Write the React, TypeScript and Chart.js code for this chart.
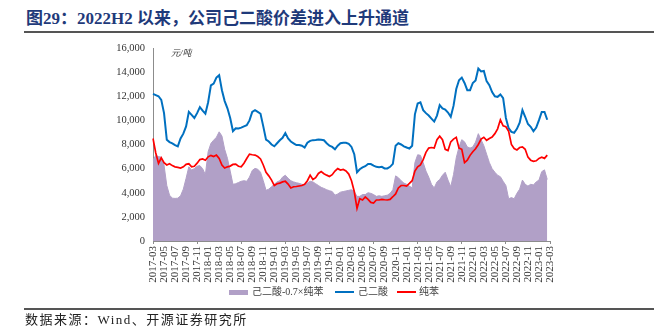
import React, { useEffect, useRef } from "react";
import { Chart, registerables } from "chart.js";

Chart.register(...registerables);

// Half-monthly observations, 2017-03 (first half) through 2023-02 (second half)
const adipic = [
  12200, 12100, 12000, 11700, 10600, 8400, 8200, 8100,
  7950, 7850, 8500, 8900, 9500, 10700, 10450, 10200,
  10600, 11100, 10800, 10550, 11500, 12900, 13050, 13550,
  13750, 12500, 11600, 11000, 10200, 9100, 9350, 9330,
  9400, 9500, 9600, 10000, 10700, 10850, 10700, 10550,
  9500, 8400, 8250, 8000, 7850, 8100, 8350, 8550,
  8950, 8500, 8250, 8100, 7950, 7950, 7900, 7750,
  8150, 8300, 8360, 8380, 8420, 8400, 8350, 8100,
  7900, 7800, 7600, 7900, 8100, 8140, 8140, 8050,
  7800, 7200, 5700, 5950, 6100, 6200, 6380, 6380,
  6250, 6150, 6120, 6150, 6020, 6020, 6150, 6400,
  7900, 8100, 8000, 7850, 7750, 7670, 7900, 10500,
  11400, 11500, 10850, 10600, 10400, 10150, 9900, 10400,
  11260, 11000, 10900, 10650, 10300, 11200, 12600, 13330,
  13550, 13100, 12500, 12500, 13100, 13300, 14300, 14050,
  14100, 13250, 12920, 12350, 12000, 11950, 12150, 11850,
  10200, 9350, 9050, 8970, 9300, 9800, 10850, 10300,
  9700, 9470, 9100, 9400, 10020, 10700, 10700, 10050,
];

const benzene = [
  8500, 7300, 6430, 6900, 6500, 6300, 6400, 6250,
  6150, 6100, 6050, 6150, 6350, 6400, 6150, 6200,
  6450, 6750, 6800, 6700, 6980, 7100, 7000, 7120,
  6850, 6300, 6050, 6150, 6210, 6350, 6380, 6200,
  6150, 6450, 6840, 7200, 7150, 7120, 7000, 6800,
  6300, 5700, 5400, 5050, 4600, 4750, 4800, 4900,
  4950, 4720, 4400, 4500, 4520, 4560, 4600, 4700,
  5000, 5460, 5100, 5250, 5600, 5750, 5580, 5460,
  5350, 5500, 5800, 6000, 5880, 5930, 5800, 5550,
  5000, 4100, 2700, 3500, 3400, 3650, 3450, 3200,
  3150, 3400, 3400, 3450, 3420, 3400, 3450, 3670,
  3900, 4400, 4600, 4600, 4550, 4770, 5000, 5800,
  6150, 6300, 6750, 7350, 7700, 7750, 7700, 8400,
  8690, 8400, 7600, 7500, 8220, 8450, 8600, 7700,
  7600, 6500, 6700, 7100, 7400, 7650, 8000, 8450,
  8600, 8350, 8500, 8620, 8900, 9300, 10050, 9550,
  9470, 9100, 8000, 7670, 7550, 7750, 7800, 7600,
  6950, 6700, 6600, 6650, 6850, 6950, 6850, 7120,
];

const spread = [
  6700, 7100, 7000, 6950, 6300, 4600, 3800, 3550,
  3530, 3550, 3750, 4300, 5200, 6150, 5880, 6000,
  6200, 6250, 6000, 5500, 7400, 8090, 8360, 8600,
  9050, 8700, 7600, 6850, 5800, 4700, 4750, 4850,
  4950, 5000, 4950, 5300, 5850, 6020, 5950, 5700,
  5000, 4200, 4300, 4500, 4700, 4900, 5000, 5300,
  5450, 5200, 5000, 4900, 4830, 4780, 4700, 4650,
  4800, 4950, 4900, 4750, 4600, 4450, 4360, 4250,
  4170, 4100, 3800, 3900, 4050, 4100, 4150, 4200,
  4250, 4100, 3700, 3700, 3850, 3850, 4000, 3950,
  3850, 3700, 3750, 3700, 3750, 3800, 3950, 4250,
  5400, 5250, 5000, 4800, 4700, 4550, 4400, 6500,
  7150, 7100, 6500, 5800, 5300, 4700, 4400, 4900,
  5100, 5450, 5700, 5050, 4500, 5500, 6900, 7800,
  8400, 8220, 7800, 7700, 7800, 8200, 8900, 8400,
  7900, 7200, 6500, 6000, 5700, 5450, 5330, 4950,
  4600, 3500, 3600, 3500, 3950, 4300, 5050, 4700,
  4550, 4700, 4650, 4900, 5050, 5750, 5900, 5100,
];

const seriesNames = ["己二酸-0.7×纯苯", "己二酸", "纯苯"];
const yTicks = [0, 2000, 4000, 6000, 8000, 10000, 12000, 14000, 16000];

// categories: half-month dates from 2017-03-01 to 2023-03-01
const categories: string[] = [];
for (let i = 0; i <= 144; i++) {
  const mi = 2 + Math.floor(i / 2);
  const y = 2017 + Math.floor(mi / 12);
  const m = (mi % 12) + 1;
  categories.push(`${y}-${String(m).padStart(2, "0")}-${i % 2 === 0 ? "01" : "16"}`);
}

const PURPLE = "rgb(177,160,199)";
const BLUE = "rgb(0,112,192)";
const RED = "rgb(255,0,0)";
const AXIS = "#8c8c8c";
const SERIF = "'Liberation Serif', 'Times New Roman', 'Noto Sans CJK SC', serif";

const legendItems = [
  { name: seriesNames[0], color: PURPLE, kind: "box", x: 229, tx: 252 },
  { name: seriesNames[1], color: BLUE, kind: "line", x: 335, tx: 358 },
  { name: seriesNames[2], color: RED, kind: "line", x: 397, tx: 419 },
];

export default function App() {
  const ref = useRef<HTMLCanvasElement>(null);

  useEffect(() => {
    const canvas = ref.current!;
    const chart = new Chart(canvas, {
      type: "line",
      data: {
        labels: categories,
        datasets: [
          {
            label: seriesNames[0],
            data: spread,
            fill: "origin",
            backgroundColor: PURPLE,
            borderColor: PURPLE,
            borderWidth: 1,
            pointRadius: 0,
            order: 2,
          },
          {
            label: seriesNames[1],
            data: adipic,
            fill: false,
            borderColor: BLUE,
            borderWidth: 2,
            pointRadius: 0,
            order: 1,
          },
          {
            label: seriesNames[2],
            data: benzene,
            fill: false,
            borderColor: RED,
            borderWidth: 1.7,
            pointRadius: 0,
            order: 0,
          },
        ],
      },
      options: {
        animation: false,
        responsive: false,
        devicePixelRatio: 1,
        layout: { padding: { left: 0, right: 104, top: 48, bottom: 48 } },
        scales: {
          x: {
            type: "category",
            offset: false,
            grid: {
              display: true,
              drawOnChartArea: false,
              drawTicks: true,
              tickLength: 3,
              color: (c: any) => (c.index % 4 === 0 ? AXIS : "rgba(0,0,0,0)"),
              tickColor: (c: any) => (c.index % 4 === 0 ? AXIS : "rgba(0,0,0,0)"),
            },
            border: { display: true, color: AXIS, width: 1 },
            ticks: {
              autoSkip: false,
              minRotation: 90,
              maxRotation: 90,
              padding: 2,
              color: "#333",
              font: { family: SERIF, size: 11 },
              callback: (_v: any, index: number) =>
                index % 4 === 0 ? categories[index].slice(0, 7) : null,
            },
            afterFit: (s: any) => {
              s.height = 46;
            },
          },
          y: {
            min: 0,
            max: 16000,
            afterBuildTicks: (s: any) => {
              s.ticks = yTicks.map((v) => ({ value: v }));
            },
            grid: { display: false, drawTicks: false },
            border: { display: true, color: AXIS, width: 1 },
            ticks: {
              padding: 8,
              color: "#333",
              font: { family: SERIF, size: 10.5 },
              callback: (v: any) => Number(v).toLocaleString("en-US"),
            },
            afterFit: (s: any) => {
              s.width = 153;
            },
          },
        },
        plugins: {
          tooltip: { enabled: false },
          title: { display: false },
          legend: { display: false },
        },
      },
    } as any);
    return () => chart.destroy();
  }, []);

  return (
    <div
      style={{
        position: "fixed",
        left: 0,
        top: 0,
        width: 654,
        height: 335,
        background: "#fff",
        overflow: "hidden",
      }}
    >
      <div
        style={{
          position: "absolute",
          left: 26,
          top: 10,
          fontFamily: SERIF,
          fontWeight: 700,
          fontSize: 17,
          lineHeight: "17px",
          color: "#1f3a7a",
          whiteSpace: "nowrap",
        }}
      >
        图29：2022H2 以来，公司己二酸价差进入上升通道
      </div>
      <div
        style={{
          position: "absolute",
          left: 24,
          top: 31,
          width: 630,
          height: 1.5,
          background: "#555",
        }}
      />
      <canvas
        ref={ref}
        width={654}
        height={335}
        style={{ position: "absolute", left: 0, top: 0, width: 654, height: 335 }}
      />
      <div
        style={{
          position: "absolute",
          left: 171,
          top: 49,
          fontFamily: SERIF,
          fontStyle: "italic",
          fontSize: 9,
          lineHeight: "9px",
          color: "#333",
          whiteSpace: "nowrap",
        }}
      >
        元/吨
      </div>
      {legendItems.map((it) => (
        <React.Fragment key={it.name}>
          <div
            style={{
              position: "absolute",
              left: it.x,
              top: it.kind === "box" ? 289.5 : 291,
              width: 19,
              height: it.kind === "box" ? 5 : 2,
              background: it.color,
            }}
          />
          <div
            style={{
              position: "absolute",
              left: it.tx,
              top: 286,
              fontFamily: SERIF,
              fontSize: 10,
              lineHeight: "12px",
              color: "#404040",
              whiteSpace: "nowrap",
            }}
          >
            {it.name}
          </div>
        </React.Fragment>
      ))}
      <div
        style={{
          position: "absolute",
          left: 24,
          top: 308,
          width: 630,
          height: 1.5,
          background: "#555",
        }}
      />
      <div
        style={{
          position: "absolute",
          left: 25,
          top: 313,
          fontFamily: SERIF,
          fontSize: 13,
          lineHeight: "13px",
          letterSpacing: 1.5,
          color: "#222",
          whiteSpace: "nowrap",
        }}
      >
        数据来源：Wind、开源证券研究所
      </div>
    </div>
  );
}
